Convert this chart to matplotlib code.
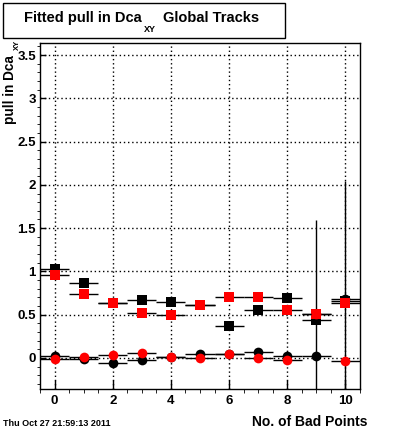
import numpy as np
import matplotlib
matplotlib.use('Agg')
from matplotlib import pyplot as plt
from matplotlib.ticker import MultipleLocator
from matplotlib.patches import Rectangle

plt.rcParams['font.family'] = ['Liberation Sans', 'DejaVu Sans']
plt.rcParams['font.weight'] = 'bold'

# data
bad_points = np.arange(11)
# sigma of fitted pull (squares)
black_sq = [1.03, 0.86, 0.63, 0.67, 0.65, 0.61, 0.37, 0.55, 0.69, 0.44, 0.66]
black_sq_err = [0.02, 0.02, 0.02, 0.02, 0.02, 0.02, 0.02, 0.02, 0.02, 1.15, 0.02]
red_sq = [0.96, 0.74, 0.64, 0.52, 0.49, 0.61, 0.70, 0.70, 0.55, 0.51, 0.64]
red_sq_err = [0.01, 0.01, 0.01, 0.01, 0.01, 0.01, 0.01, 0.01, 0.01, 0.01, 0.01]
# mean of fitted pull (circles)
black_c = [0.02, -0.015, -0.054, -0.03, 0.01, 0.04, 0.05, 0.07, 0.02, 0.02, 0.68]
black_c_err = [0.02, 0.02, 0.02, 0.02, 0.02, 0.02, 0.02, 0.03, 0.02, 0.02, 1.36]
red_c = [-0.01, 0.015, 0.035, 0.06, 0.01, 0.0, 0.05, 0.0, -0.03, 0.51, -0.035]
red_c_err = [0.02, 0.02, 0.02, 0.02, 0.02, 0.02, 0.02, 0.02, 0.02, 0.02, 0.02]

fig = plt.figure(figsize=(4, 4.33), dpi=100)
ax = fig.add_axes([0.1, 0.1016, 0.8, 0.799])

series = [
    (black_sq, black_sq_err, 's', 'black', 6.5),
    (black_c, black_c_err, 'o', 'black', 7),
    (red_sq, red_sq_err, 's', 'red', 6.5),
    (red_c, red_c_err, 'o', 'red', 7),
]
for i, (y, yerr, m, c, ms) in enumerate(series):
    ax.errorbar(bad_points, y, xerr=0.5, yerr=yerr, fmt=m, color=c, ecolor='black',
                elinewidth=1, capsize=0, markersize=ms, markeredgewidth=0, zorder=3 + i)

ax.set_xlim(-0.5, 10.5)
ax.set_ylim(-0.36, 3.64)
ax.xaxis.set_major_locator(MultipleLocator(2))
ax.xaxis.set_minor_locator(MultipleLocator(0.5))
ax.yaxis.set_major_locator(MultipleLocator(0.5))
ax.yaxis.set_minor_locator(MultipleLocator(0.1))
ax.tick_params(direction='in', labelsize=9.5, width=1)
ax.tick_params(axis='x', which='major', length=6.5, pad=4)
ax.tick_params(axis='x', which='minor', length=3)
ax.tick_params(axis='y', which='major', length=4.5, pad=3)
ax.tick_params(axis='y', which='minor', length=2.2)
ax.yaxis.set_major_formatter(plt.FuncFormatter(lambda v, p: ('%g' % v)))
ax.grid(True, which='major', linestyle=(0, (1, 2)), color='black', linewidth=1)
ax.set_axisbelow(True)
for s in ax.spines.values():
    s.set_linewidth(1)

# title box
fig.patches.append(Rectangle((3 / 400, 1 - 38 / 433), 282 / 400, 35 / 433,
                             transform=fig.transFigure, facecolor='white',
                             edgecolor='black', linewidth=1))
fig.text(24 / 400, 1 - 18 / 433, 'Fitted pull in Dca', ha='left', va='center',
         fontsize=10.5, fontweight='bold')
fig.text(144 / 400, 1 - 30 / 433, 'XY', ha='left', va='center',
         fontsize=6.5, fontweight='bold')
fig.text(163 / 400, 1 - 18 / 433, 'Global Tracks', ha='left', va='center',
         fontsize=10.5, fontweight='bold')

# y axis title
fig.text(10 / 400, 1 - 55 / 433, 'pull in Dca', rotation=90,
         ha='center', va='top', fontsize=9.8, fontweight='bold')
fig.text(17 / 400, 1 - 40 / 433, 'XY', rotation=90,
         ha='center', va='top', fontsize=5.5, fontweight='bold')

fig.text(367 / 400, 1 - 422 / 433, 'No. of Bad Points', ha='right', va='center',
         fontsize=10, fontweight='bold')
fig.text(3 / 400, 1 - 424 / 433, 'Thu Oct 27 21:59:13 2011', ha='left', va='center',
         fontsize=6.5, fontweight='bold')

fig.savefig('out.png', dpi=100)
